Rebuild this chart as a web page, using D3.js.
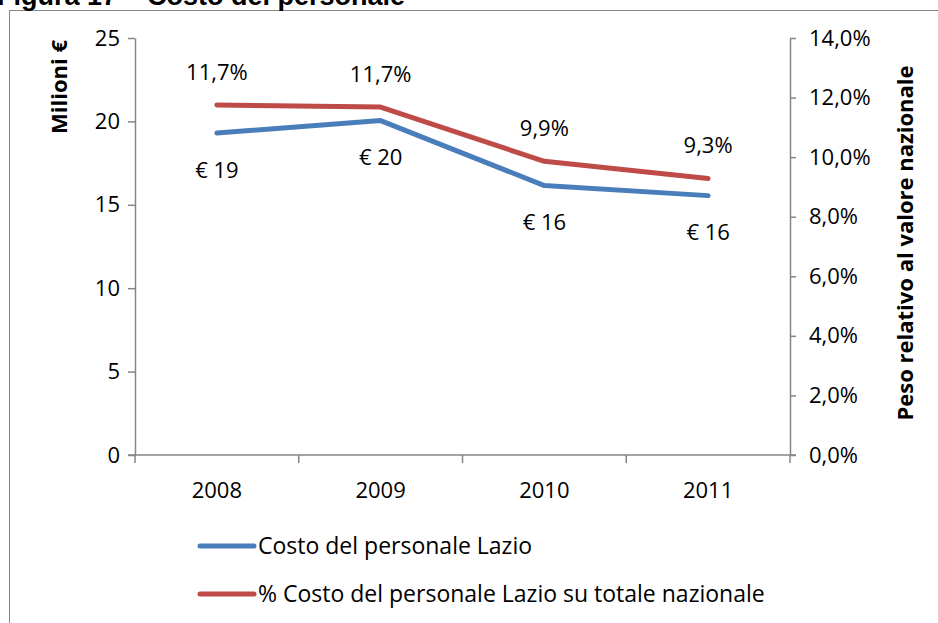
<!DOCTYPE html>
<html>
<head>
<meta charset="utf-8">
<script src="https://cdn.jsdelivr.net/npm/d3@7"></script>
<style>
    body { margin: 0; background: #fff; }
    svg { display: block; }
    text { font-family: "Open Sans", Lato, sans-serif; fill: #000; }
</style>
</head>
<body>
<div id="chart"></div>
<script>
// dati
var anni = ["2008", "2009", "2010", "2011"];
var costoLazio = [19.3, 20.05, 16.15, 15.55];          // milioni di euro
var pesoNazionale = [0.1175, 0.1168, 0.0986, 0.0928];   // quota sul totale nazionale
var etichetteCosto = ["€ 19", "€ 20", "€ 16", "€ 16"];
var etichettePeso = ["11,7%", "11,7%", "9,9%", "9,3%"];
var tickSinistra = [0, 5, 10, 15, 20, 25];
var tickDestra = [0, 0.02, 0.04, 0.06, 0.08, 0.10, 0.12, 0.14];
var nomiSerie = ["Costo del personale Lazio", "% Costo del personale Lazio su totale nazionale"];
var coloriSerie = ["#4a7ebb", "#be4b48"];

var width = 938, height = 623;
var plot = { left: 135, right: 790, top: 38, bottom: 455 };
var fs = "22px";

var it = d3.formatLocale({ decimal: ",", thousands: ".", grouping: [3], currency: ["€", ""] });
var fmtPerc = it.format(".1%");

var svg = d3.select("#chart").append("svg")
    .attr("width", width)
    .attr("height", height);

// cornice e titolo (tagliato in alto come nell'originale)
svg.append("rect")
    .attr("x", 9.5).attr("y", 10.5)
    .attr("width", 1000).attr("height", 1000)
    .attr("fill", "none")
    .attr("stroke", "#868686")
    .attr("stroke-width", 1);

svg.append("text")
    .attr("x", -3).attr("y", 5)
    .style("font-family", "'Liberation Sans', Arial, sans-serif")
    .style("font-weight", "bold")
    .style("font-size", "27px")
    .text("Figura 17 – Costo del personale");

var x = d3.scaleBand().domain(anni).range([plot.left, plot.right]);
var yL = d3.scaleLinear().domain([0, 25]).range([plot.bottom, plot.top]);
var yR = d3.scaleLinear().domain([0, 0.14]).range([plot.bottom, plot.top]);

function xc(i) { return x(anni[i]) + x.bandwidth() / 2; }

function stileAsse(g) {
    g.selectAll("path, line").attr("stroke", "#868686").attr("stroke-width", 1.5);
    g.selectAll("text").style("font-size", fs).attr("fill", "#000");
}

// asse sinistro
svg.append("g")
    .attr("transform", "translate(" + plot.left + ",0)")
    .call(d3.axisLeft(yL).tickValues(tickSinistra).tickSize(7).tickSizeOuter(0).tickPadding(8))
    .call(stileAsse);

// asse destro
svg.append("g")
    .attr("transform", "translate(" + plot.right + ",0)")
    .call(d3.axisRight(yR).tickValues(tickDestra).tickFormat(fmtPerc).tickSize(6).tickSizeOuter(0).tickPadding(13))
    .call(stileAsse);

// asse X: tacche ai confini delle categorie
var gx = svg.append("g")
    .attr("transform", "translate(0," + plot.bottom + ")");
gx.append("line")
    .attr("x1", plot.left - 7).attr("x2", plot.right + 6)
    .attr("stroke", "#868686").attr("stroke-width", 1.5);
gx.selectAll(".tacca")
    .data(anni.concat(["fine"]))
    .enter().append("line")
    .attr("class", "tacca")
    .attr("x1", function (d, i) { return i < anni.length ? x(d) : plot.right; })
    .attr("x2", function (d, i) { return i < anni.length ? x(d) : plot.right; })
    .attr("y1", 0).attr("y2", 8)
    .attr("stroke", "#868686").attr("stroke-width", 1.5);
gx.selectAll(".anno")
    .data(anni)
    .enter().append("text")
    .attr("class", "anno")
    .attr("x", function (d, i) { return xc(i); })
    .attr("y", 35)
    .attr("dy", "0.35em")
    .attr("text-anchor", "middle")
    .style("font-size", fs)
    .text(function (d) { return d; });

// titoli degli assi
svg.append("text")
    .attr("transform", "translate(67,87) rotate(-90)")
    .attr("text-anchor", "middle")
    .style("font-size", fs)
    .style("font-weight", "bold")
    .text("Milioni €");

svg.append("text")
    .attr("transform", "translate(913,243) rotate(-90)")
    .attr("text-anchor", "middle")
    .style("font-size", fs)
    .style("font-weight", "bold")
    .text("Peso relativo al valore nazionale");

// linee
var lineaCosto = d3.line()
    .x(function (d, i) { return xc(i); })
    .y(function (d) { return yL(d); });
var lineaPeso = d3.line()
    .x(function (d, i) { return xc(i); })
    .y(function (d) { return yR(d); });

svg.append("path")
    .datum(costoLazio)
    .attr("d", lineaCosto)
    .attr("fill", "none")
    .attr("stroke", coloriSerie[0])
    .attr("stroke-width", 5)
    .attr("stroke-linecap", "round")
    .attr("stroke-linejoin", "round");

svg.append("path")
    .datum(pesoNazionale)
    .attr("d", lineaPeso)
    .attr("fill", "none")
    .attr("stroke", coloriSerie[1])
    .attr("stroke-width", 5)
    .attr("stroke-linecap", "round")
    .attr("stroke-linejoin", "round");

// etichette dati
svg.selectAll(".lblCosto")
    .data(costoLazio)
    .enter().append("text")
    .attr("class", "lblCosto")
    .attr("x", function (d, i) { return xc(i); })
    .attr("y", function (d) { return yL(d) + 37; })
    .attr("dy", "0.35em")
    .attr("text-anchor", "middle")
    .style("font-size", fs)
    .text(function (d, i) { return etichetteCosto[i]; });

svg.selectAll(".lblPeso")
    .data(pesoNazionale)
    .enter().append("text")
    .attr("class", "lblPeso")
    .attr("x", function (d, i) { return xc(i); })
    .attr("y", function (d) { return yR(d) - 33; })
    .attr("dy", "0.35em")
    .attr("text-anchor", "middle")
    .style("font-size", fs)
    .text(function (d, i) { return etichettePeso[i]; });

// legenda
var legenda = svg.selectAll(".legenda")
    .data(nomiSerie)
    .enter().append("g")
    .attr("class", "legenda")
    .attr("transform", function (d, i) { return "translate(198," + (546 + i * 48) + ")"; });

legenda.append("line")
    .attr("x1", 2).attr("x2", 56)
    .attr("stroke", function (d, i) { return coloriSerie[i]; })
    .attr("stroke-width", 5)
    .attr("stroke-linecap", "round");

legenda.append("text")
    .attr("x", 60)
    .attr("dy", "0.35em")
    .style("font-size", "23px")
    .text(function (d) { return d; });
</script>
</body>
</html>
